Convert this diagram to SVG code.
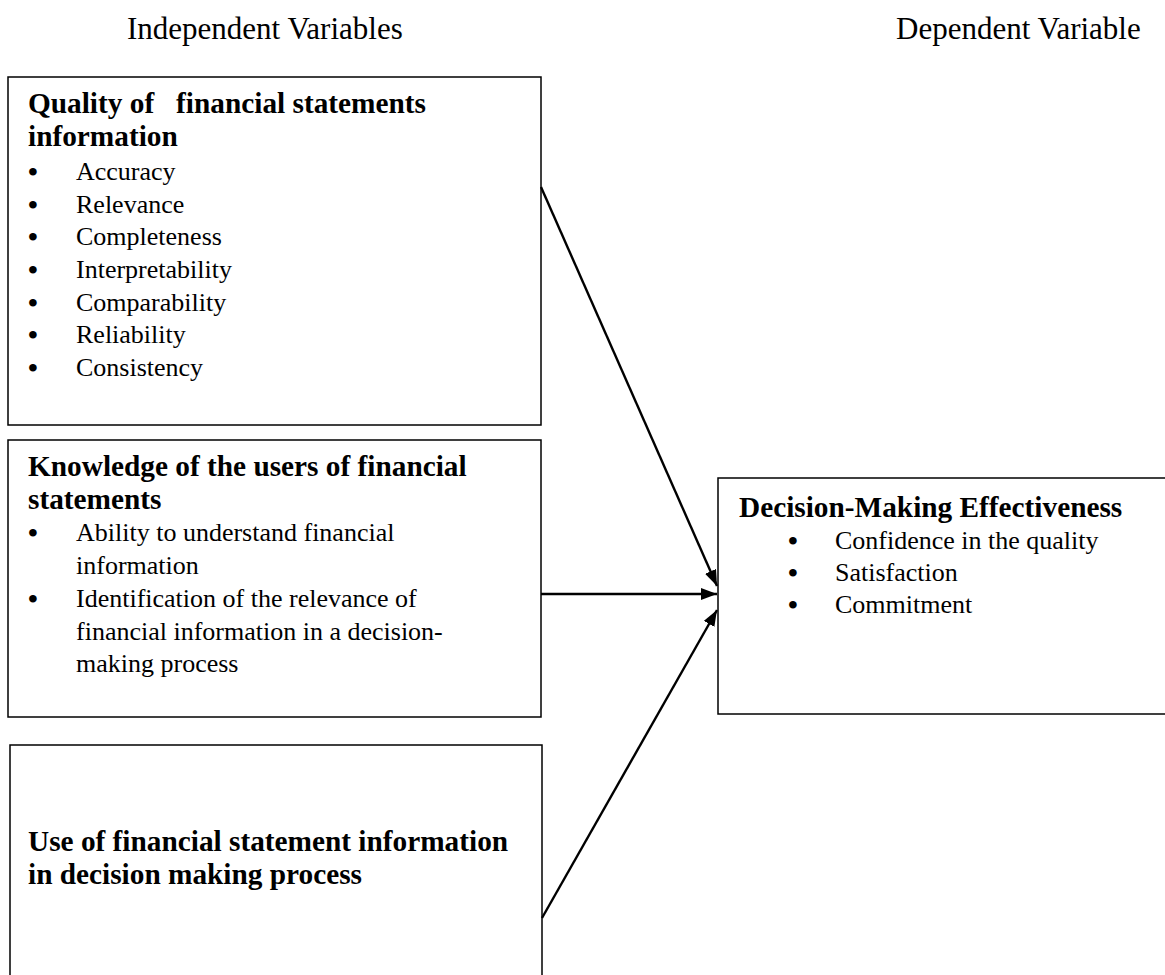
<svg xmlns="http://www.w3.org/2000/svg" width="1165" height="975" viewBox="0 0 1165 975">
<defs>
<marker id="ah" viewBox="0 0 16 12" refX="16" refY="6" markerWidth="16" markerHeight="12" markerUnits="userSpaceOnUse" orient="auto">
<path d="M0,0 L16,6 L0,12 Z" fill="#000"/>
</marker>
<style>
text{font-family:"Liberation Serif","Times New Roman",serif;fill:#000}
.hd{font-size:31px}
.b{font-size:29.3px;font-weight:bold}
.r{font-size:26px}
.d{font-size:28px;font-weight:bold}
.box{fill:#fff;stroke:#000;stroke-width:1.5}
.cn{stroke:#000;stroke-width:2.4;fill:none;marker-end:url(#ah)}
</style>
</defs>
<rect width="1165" height="975" fill="#fff"/>
<g id="headers">
<text class="hd" x="127" y="39">Independent Variables</text>
<text class="hd" x="896" y="39">Dependent Variable</text>
</g>
<g id="node-quality">
<rect class="box" x="8" y="77" width="533" height="348"/>
<text class="b" x="28" y="113" xml:space="preserve">Quality of   financial statements</text>
<text class="b" x="28" y="146">information</text>
<text class="d" x="28" y="181">•</text><text class="r" x="76" y="180">Accuracy</text>
<text class="d" x="28" y="214">•</text><text class="r" x="76" y="213">Relevance</text>
<text class="d" x="28" y="246">•</text><text class="r" x="76" y="245">Completeness</text>
<text class="d" x="28" y="279">•</text><text class="r" x="76" y="278">Interpretability</text>
<text class="d" x="28" y="312">•</text><text class="r" x="76" y="311">Comparability</text>
<text class="d" x="28" y="344">•</text><text class="r" x="76" y="343">Reliability</text>
<text class="d" x="28" y="377">•</text><text class="r" x="76" y="376">Consistency</text>
</g>
<g id="node-knowledge">
<rect class="box" x="8" y="440" width="533" height="277"/>
<text class="b" x="28" y="476">Knowledge of the users of financial</text>
<text class="b" x="28" y="509">statements</text>
<text class="d" x="28" y="542">•</text><text class="r" x="76" y="541">Ability to understand financial</text>
<text class="r" x="76" y="574">information</text>
<text class="d" x="28" y="608">•</text><text class="r" x="76" y="607">Identification of the relevance of</text>
<text class="r" x="76" y="640">financial information in a decision-</text>
<text class="r" x="76" y="672">making process</text>
</g>
<g id="node-use">
<rect class="box" x="10" y="745" width="532" height="240"/>
<text class="b" x="28" y="851">Use of financial statement information</text>
<text class="b" x="28" y="884">in decision making process</text>
</g>
<g id="node-decision">
<rect class="box" x="718" y="478" width="460" height="236"/>
<text class="b" x="739" y="517">Decision-Making Effectiveness</text>
<text class="d" x="788" y="550">•</text><text class="r" x="835" y="549">Confidence in the quality</text>
<text class="d" x="788" y="582">•</text><text class="r" x="835" y="581">Satisfaction</text>
<text class="d" x="788" y="614">•</text><text class="r" x="835" y="613">Commitment</text>
</g>
<g id="connectors">
<line class="cn" x1="541" y1="187" x2="717" y2="586"/>
<line class="cn" x1="541" y1="594" x2="717" y2="594"/>
<line class="cn" x1="542" y1="918" x2="717" y2="610"/>
</g>
</svg>
